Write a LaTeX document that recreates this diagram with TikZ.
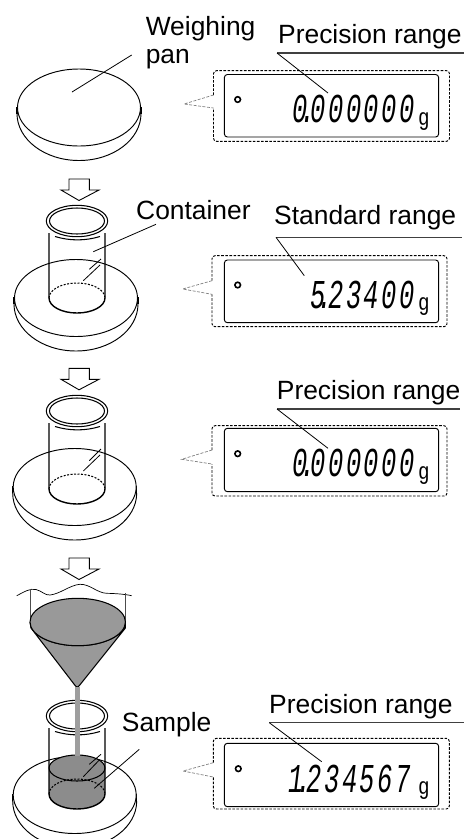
\documentclass[tikz,border=0pt]{standalone}
\usepackage{fontspec}
\usepackage{graphicx}
\setmainfont{Liberation Sans}
\newfontfamily\lcdfont{Liberation Mono}
\tikzset{
  x=1pt,y=-1pt,
  lab/.style={anchor=base west,inner sep=0pt,font=\fontsize{26.4}{26.4}\selectfont},
  leader/.style={draw=black,line width=0.8pt},
  shelf/.style={draw=black!75,line width=1.1pt},
  panline/.style={draw=black,line width=0.95pt},
  wall/.style={draw=black,line width=1.4pt},
  glass/.style={draw=black,line width=1.05pt},
  dbox/.style={draw=black,line width=0.95pt,rounded corners=3pt},
  outerbox/.style={draw=black,line width=0.95pt,dash pattern=on 2.6pt off 1.5pt,rounded corners=3pt},
  callout/.style={draw=black!50,line width=0.7pt,dash pattern=on 3pt off 1.5pt},
  downarrow/.style={draw=black,line width=0.9pt,fill=white},
  lcdnum/.style={anchor=base east,inner sep=0pt},
  lcdg/.style={anchor=base west,inner sep=0pt},
  sand/.style={fill=black!40},
  lamp/.style={draw=black,line width=1.6pt},
}
\newcommand{\dpt}{\kern-.31em\rlap{.}\kern.41em}
\newcommand{\lcdset}[1]{\scalebox{.62}[1]{\fontsize{41}{41}\lcdfont\itshape\addfontfeature{LetterSpace=10}#1}}
\newcommand{\lcdu}{\scalebox{.8}[1]{\fontsize{24}{24}\lcdfont g}}
% pan: cx cy
\newcommand{\pan}[2]{
  \draw[panline,fill=white] (#1-62,#2+6) arc[start angle=180,end angle=0,x radius=62,y radius=47];
  \draw[wall] (#1-62,#2-1) -- (#1-62,#2+6) (#1+62,#2-1) -- (#1+62,#2+6);
  \draw[panline,fill=white] (#1,#2) ellipse[x radius=61.5,y radius=38.5];
}
% beaker: rim cy, bottom cy
\newcommand{\beaker}[2]{
  \draw[wall] (49,#1+12) -- (49,#2) arc[start angle=180,end angle=0,x radius=28,y radius=15] -- (105,#1+12);
  \draw[glass,dash pattern=on 2pt off 1.5pt] (49,#2) arc[start angle=180,end angle=360,x radius=28,y radius=15];
  \draw[glass] (77,#1) ellipse[x radius=30.7,y radius=15.7];
  \draw[glass] (77,#1) ellipse[x radius=27.5,y radius=13];
  \draw[glass] (55,#1+15.5) .. controls (70,#1+20) and (85,#1+20) .. (100,#1+15.5);
}
\newcommand{\downarr}[1]{
  \draw[downarrow] (69,#1) -- (89.3,#1) -- (89.3,#1+11) -- (99,#1+11) -- (79,#1+21.5) -- (61,#1+11) -- (69,#1+11) -- cycle;
}
\begin{document}
\begin{tikzpicture}
\useasboundingbox (0,0) rectangle (464,839);
\begin{scope}
\clip (0,0) rectangle (464,839);

% ---------- panel 1
\pan{79}{107.5}
\node[lab] (weighing) at (145.6,35) {Weighing};
\node[lab] (pan) at (145.6,63) {pan};
\coordinate (panA) at (131.7,55); \coordinate (panB) at (72,92);
\draw[leader] (panA) -- (panB);
\draw[outerbox] (213.5,95) -- (213.5,70.7) -- (449.5,70.7) -- (449.5,141.3) -- (213.5,141.3) -- (213.5,108);
\draw[callout] (213.5,95) -- (184,104) -- (213.5,108);
\draw[dbox] (224.4,74.5) rectangle (438.6,137);
\draw[lamp] (237.7,99.5) circle[radius=2.8];
\node[lcdnum] (d1) at (415,122.7) {\lcdset{0\dpt 000000}};
\node[lcdg] (g1) at (418,125) {\lcdu};
\node[lab] (r1) at (278,43) {Precision range};
\coordinate (s1a) at (277,53); \coordinate (s1b) at (464,53); \coordinate (s1c) at (328,93);
\draw[shelf] (s1a) -- (s1b);
\draw[leader] (s1a) -- (s1c);
\downarr{179}

% ---------- panel 2
\pan{76}{298}
\beaker{221}{298}
\node[lab] (container) at (136,219.3) {Container};
\coordinate (cA) at (156,224.3); \coordinate (cB) at (93.3,251.7);
\coordinate (sl1a) at (101,259); \coordinate (sl1b) at (89.3,269.3);
\coordinate (sl2a) at (100,265); \coordinate (sl2b) at (83.3,280.7);
\draw[leader] (cA) -- (cB) (sl1a) -- (sl1b) (sl2a) -- (sl2b);
\draw[outerbox] (212,280.7) -- (212,255.7) -- (447,255.7) -- (447,326.7) -- (212,326.7) -- (212,294.3);
\draw[callout] (212,280.7) -- (182.7,289) -- (212,294.3);
\draw[dbox] (224.4,260) rectangle (438.6,322.7);
\draw[lamp] (237.7,285) circle[radius=2.8];
\node[lcdnum] (d2) at (415,308.3) {\lcdset{5\dpt 23400}};
\node[lcdg] (g2) at (418,310.5) {\lcdu};
\node[lab] (r2) at (274,224.3) {Standard range};
\coordinate (s2a) at (276,237.3); \coordinate (s2b) at (462,237.3); \coordinate (s2c) at (304.3,275.7);
\draw[shelf] (s2a) -- (s2b);
\draw[leader] (s2a) -- (s2c);
\downarr{368.3}

% ---------- panel 3
\pan{74.7}{487}
\beaker{411}{489}
\coordinate (tl1a) at (101,449); \coordinate (tl1b) at (89.3,460.7);
\coordinate (tl2a) at (100,455); \coordinate (tl2b) at (83.3,471);
\draw[leader] (tl1a) -- (tl1b) (tl2a) -- (tl2b);
\draw[outerbox] (212,450) -- (212,425.7) -- (447,425.7) -- (447,496) -- (212,496) -- (212,464);
\draw[callout] (212,450) -- (181.7,459.3) -- (212,464);
\draw[dbox] (224.4,428.3) rectangle (438.6,491.7);
\draw[lamp] (237.7,453.7) circle[radius=2.8];
\node[lcdnum] (d3) at (415,476.7) {\lcdset{0\dpt 000000}};
\node[lcdg] (g3) at (418,479) {\lcdu};
\node[lab] (r3) at (276.7,399) {Precision range};
\coordinate (s3a) at (277,409); \coordinate (s3b) at (460,409); \coordinate (s3c) at (328,448.3);
\draw[shelf] (s3a) -- (s3b);
\draw[leader] (s3a) -- (s3c);
\downarr{558}

% ---------- panel 4
\draw[line width=0.7pt] (16.7,595.7) .. controls (24,592) and (30,588) .. (36,589.5) .. controls (42,591) and (45,595.5) .. (50,595) .. controls (60,594) and (70,585) .. (80,584.3) .. controls (90,584) and (97,593) .. (106.7,593.3) .. controls (115,593.5) and (124,594) .. (131.7,595.7);
\draw[line width=0.9pt,draw=black!70] (30,589.3) -- (30,622) (125,593.3) -- (125,622);
\draw[glass,sand] (30,622) arc[start angle=180,end angle=0,x radius=47.7,y radius=23.7] -- (125.4,628) -- (79,686) .. controls (78,687.6) and (76.5,687.6) .. (75.5,686) -- (31,628) -- cycle;
\draw[glass,sand] (77.7,622) ellipse[x radius=47.7,y radius=23.7];
\pan{74.7}{795}
\fill[black!45] (49,768) -- (49,795) arc[start angle=180,end angle=0,x radius=28,y radius=14] -- (105,768) arc[start angle=0,end angle=180,x radius=28,y radius=13] -- cycle;
\draw[glass,fill=black!45] (77,768) ellipse[x radius=28,y radius=13];
\beaker{716}{794}
\fill[black!38] (75,687) rectangle (80,756);
\coordinate (ul1a) at (101,754.3); \coordinate (ul1b) at (89.3,764.3);
\coordinate (ul2a) at (99.3,760); \coordinate (ul2b) at (83.3,776.7);
\coordinate (sA) at (139.3,749.3); \coordinate (sB) at (94.3,788.3);
\draw[leader] (ul1a) -- (ul1b) (ul2a) -- (ul2b) (sA) -- (sB);
\node[lab] (sample) at (121.7,731.7) {Sample};
\draw[outerbox] (213.3,762.7) -- (213.3,738.3) -- (449.3,738.3) -- (449.3,809) -- (213.3,809) -- (213.3,777);
\draw[callout] (213.3,762.7) -- (183,771) -- (213.3,777);
\draw[dbox] (224.4,743.3) rectangle (438.6,806.7);
\draw[lamp] (238.3,768.7) circle[radius=2.8];
\node[lcdnum] (d4) at (411,792.7) {\lcdset{1\dpt 234567}};
\node[lcdg] (g4) at (418,794) {\lcdu};
\node[lab] (r4) at (269,713) {Precision range};
\coordinate (s4a) at (269.3,722.7); \coordinate (s4b) at (464,722.7); \coordinate (s4c) at (321.7,761.7);
\draw[shelf] (s4a) -- (s4b);
\draw[leader] (s4a) -- (s4c);
\end{scope}
\end{tikzpicture}
\end{document}
